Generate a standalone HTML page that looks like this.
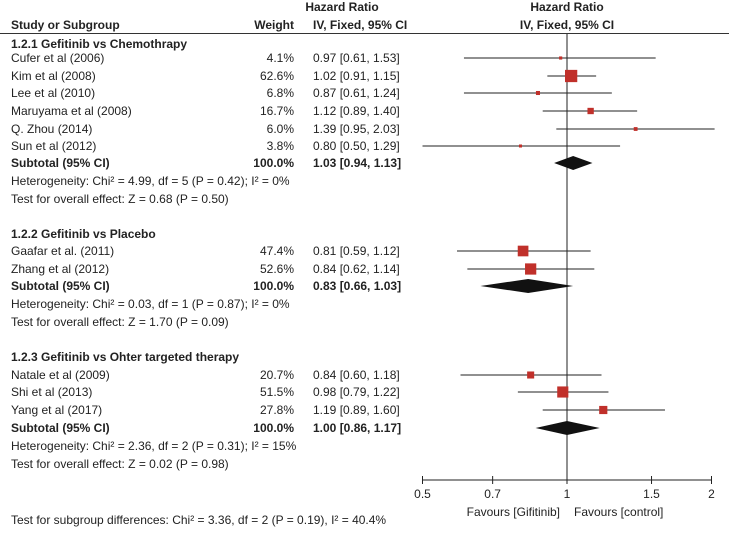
<!DOCTYPE html>
<html><head><meta charset="utf-8"><style>
body{margin:0;background:#fff;}
svg text{font-family:"Liberation Sans",Arial,sans-serif;font-size:12px;fill:#222;}
</style></head><body>
<svg id="chart" width="729" height="529" xmlns="http://www.w3.org/2000/svg">
<g id="g"></g>
</svg>
<script>
const studies=["Cufer et al (2006)","Kim et al (2008)","Lee et al (2010)","Maruyama et al (2008)","Q. Zhou (2014)","Sun et al (2012)","Gaafar et al. (2011)","Zhang et al (2012)","Natale et al (2009)","Shi et al (2013)","Yang et al (2017)"];
const weights=[4.1,62.6,6.8,16.7,6.0,3.8,47.4,52.6,20.7,51.5,27.8];
const hr=[0.97,1.02,0.87,1.12,1.39,0.80,0.81,0.84,0.84,0.98,1.19];
const lo=[0.61,0.91,0.61,0.89,0.95,0.50,0.59,0.62,0.60,0.79,0.89];
const hi=[1.53,1.15,1.24,1.40,2.03,1.29,1.12,1.14,1.18,1.22,1.60];
const studyRowY=[58,76,93,111,129,146,251,269,375,392,410];
const subHr=[1.03,0.83,1.00];
const subLo=[0.94,0.66,0.86];
const subHi=[1.13,1.03,1.17];
const subRowY=[163,286,428];
const groupTitles=["1.2.1 Gefitinib vs Chemothrapy","1.2.2 Gefitinib vs Placebo","1.2.3 Gefitinib vs Ohter targeted therapy"];
const hetText=["Heterogeneity: Chi² = 4.99, df = 5 (P = 0.42); I² = 0%","Heterogeneity: Chi² = 0.03, df = 1 (P = 0.87); I² = 0%","Heterogeneity: Chi² = 2.36, df = 2 (P = 0.31); I² = 15%"];
const testText=["Test for overall effect: Z = 0.68 (P = 0.50)","Test for overall effect: Z = 1.70 (P = 0.09)","Test for overall effect: Z = 0.02 (P = 0.98)"];
const groupY=[44,234,357];
const ticks=[0.5,0.7,1,1.5,2];
const tickLabels=["0.5","0.7","1","1.5","2"];

const NS="http://www.w3.org/2000/svg";
const g=document.getElementById('g');
const X=v=>567+Math.log(v)/Math.LN2*144.5;
function el(t,a,txt){const e=document.createElementNS(NS,t);for(const k in a)e.setAttribute(k,a[k]);if(txt!=null)e.textContent=txt;g.appendChild(e);return e;}
function fmt(v){return v.toFixed(2);}

let e;
e=el('text',{x:342,y:11,'text-anchor':'middle','font-weight':'bold'},"Hazard Ratio");

e=el('text',{x:567,y:11,'text-anchor':'middle','font-weight':'bold'},"Hazard Ratio");

e=el('text',{x:11,y:29,'font-weight':'bold'},"Study or Subgroup");

e=el('text',{x:294,y:29,'text-anchor':'end','font-weight':'bold'},"Weight");

e=el('text',{x:313,y:29,'font-weight':'bold'},"IV, Fixed, 95% CI");

e=el('text',{x:567,y:29,'text-anchor':'middle','font-weight':'bold'},"IV, Fixed, 95% CI");

e=el('line',{x1:0,y1:33.5,x2:729,y2:33.5,stroke:'#333','stroke-width':1});

e=el('line',{x1:X(1),y1:34,x2:X(1),y2:480,stroke:'#222','stroke-width':1});


for(let i=0;i<studies.length;i++){
  const y=studyRowY[i];
  e=el('text',{x:11,y:y+4},studies[i]);
  
  e=el('text',{x:294,y:y+4,'text-anchor':'end'},weights[i].toFixed(1)+"%");
  
  e=el('text',{x:313,y:y+4},fmt(hr[i])+" ["+fmt(lo[i])+", "+fmt(hi[i])+"]");
  
  e=el('line',{x1:X(lo[i]),y1:y,x2:X(hi[i]),y2:y,stroke:'#222','stroke-width':1});
  
  const s=Math.max(3,Math.sqrt(weights[i])*1.55);
  e=el('rect',{x:X(hr[i])-s/2,y:y-s/2,width:s,height:s,fill:'#c0302a'});
  
}
for(let j=0;j<3;j++){
  const y=subRowY[j];
  e=el('text',{x:11,y:groupY[j]+4,'font-weight':'bold'},groupTitles[j]);
  
  e=el('text',{x:11,y:y+4,'font-weight':'bold'},"Subtotal (95% CI)");
  
  e=el('text',{x:294,y:y+4,'text-anchor':'end','font-weight':'bold'},"100.0%");
  
  e=el('text',{x:313,y:y+4,'font-weight':'bold'},fmt(subHr[j])+" ["+fmt(subLo[j])+", "+fmt(subHi[j])+"]");
  
  e=el('polygon',{points:`${X(subLo[j])},${y} ${X(subHr[j])},${y-7} ${X(subHi[j])},${y} ${X(subHr[j])},${y+7}`,fill:'#111'});
  
  e=el('text',{x:11,y:y+22},hetText[j]);
  
  e=el('text',{x:11,y:y+40},testText[j]);
  
}
e=el('line',{x1:X(0.5),y1:480,x2:X(2),y2:480,stroke:'#222','stroke-width':1});

for(let k=0;k<ticks.length;k++){
  e=el('line',{x1:X(ticks[k]),y1:476,x2:X(ticks[k]),y2:484,stroke:'#222','stroke-width':1});
  
  e=el('text',{x:X(ticks[k]),y:498,'text-anchor':'middle'},tickLabels[k]);
  
}
e=el('text',{x:560,y:516,'text-anchor':'end'},"Favours [Gifitinib]");

e=el('text',{x:574,y:516},"Favours [control]");

e=el('text',{x:11,y:524},"Test for subgroup differences: Chi² = 3.36, df = 2 (P = 0.19), I² = 40.4%");

</script>
</body></html>
